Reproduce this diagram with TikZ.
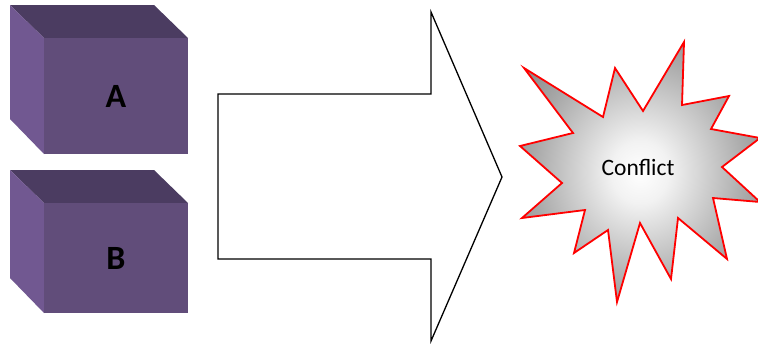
\documentclass[tikz,border=0pt]{standalone}
\usepackage{fontspec}
\setmainfont{Carlito}
\definecolor{cubefront}{RGB}{97,77,122}
\definecolor{cubetop}{RGB}{75,60,97}
\definecolor{cubeside}{RGB}{113,88,145}
\definecolor{burstgray}{RGB}{125,125,125}
\usetikzlibrary{positioning}
\pgfdeclareradialshading{burstshade}{\pgfpoint{0bp}{0bp}}{%
    color(0bp)=(white); color(6bp)=(white!90!burstgray);
    color(22bp)=(white!35!burstgray); color(34bp)=(burstgray);
    color(50bp)=(burstgray)}

\begin{document}
\begin{tikzpicture}[
    x=0.5pt, y=-0.5pt,
    cubelabel/.style={font=\fontsize{17}{20}\selectfont\bfseries, text=black},
    burstlabel/.style={font=\fontsize{11.75}{14}\selectfont, text=black},
    bigarrow/.style={draw=black, line width=0.65pt, fill=white, line join=miter},
    burst/.style={draw=red, line width=0.9pt, shading=burstshade}
]
\useasboundingbox (0,0) rectangle (758,343);

% the two boxes
\foreach \n/\t/\b in {A/5/154, B/170/313} {
    \fill[cubetop] (10,\t) -- (154,\t) -- (188,\t+33) -- (44,\t+33) -- cycle;
    \fill[cubeside] (10,\t) -- (44,\t+33) -- (44,\b) -- (10,\b-35) -- cycle;
    \fill[cubefront] (44,\t+33) rectangle (188,\b);
    \node[cubelabel] (box\n) at (116,{(\t+33+\b)/2}) {\n};
}

% block arrow
\draw[bigarrow] (218,94) -- (431,94) -- (431,12) -- (502,177)
    -- (431,341) -- (431,259) -- (218,259) -- cycle;

% burst
\shadedraw[burst] (684,42) -- (682,105) -- (729,96) -- (711,129) -- (760,138)
    -- (722,167) -- (760,202) -- (713,198) -- (727,259) -- (678,218)
    -- (671,279) -- (640,223) -- (617,302) -- (608,230) -- (574,253)
    -- (585,210) -- (522,218) -- (562,183) -- (520,146) -- (573,133)
    -- (524,68) -- (603,117) -- (615,68) -- (643,111) -- cycle;
\node[burstlabel] (conflict) at (638,167) {Conflict};
\end{tikzpicture}
\end{document}
